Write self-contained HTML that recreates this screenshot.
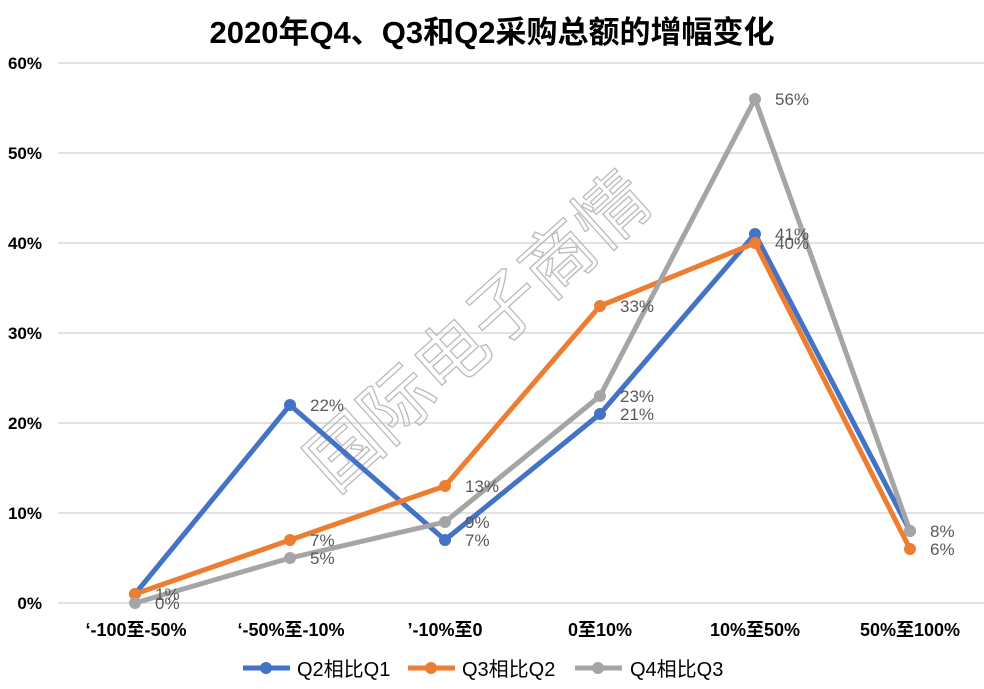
<!DOCTYPE html>
<html><head><meta charset="utf-8"><style>
body{margin:0;background:#fff;}
svg{display:block;font-family:"Liberation Sans","Noto Sans CJK SC",sans-serif;}
</style></head><body>
<svg width="984" height="689" viewBox="0 0 984 689">
<text x="492" y="43" text-anchor="middle" font-size="31" font-weight="bold" fill="#000">2020年Q4、Q3和Q2采购总额的增幅变化</text>
<g stroke="#d9d9d9" stroke-width="1.5">
<line x1="58" x2="984" y1="63" y2="63"/><line x1="58" x2="984" y1="153" y2="153"/>
<line x1="58" x2="984" y1="243" y2="243"/><line x1="58" x2="984" y1="333" y2="333"/>
<line x1="58" x2="984" y1="423" y2="423"/><line x1="58" x2="984" y1="513" y2="513"/>
<line x1="58" x2="984" y1="603" y2="603"/>
</g>
<g font-size="17" font-weight="bold" fill="#000" text-anchor="end">
<text x="42" y="69">60%</text><text x="42" y="159">50%</text><text x="42" y="249">40%</text>
<text x="42" y="339">30%</text><text x="42" y="429">20%</text><text x="42" y="519">10%</text><text x="42" y="609">0%</text>
</g>
<g font-size="18" font-weight="bold" fill="#000" text-anchor="middle">
<text x="136" y="636">‘-100至-50%</text><text x="291" y="636">‘-50%至-10%</text><text x="445" y="636">’-10%至0</text>
<text x="600" y="636">0至10%</text><text x="755" y="636">10%至50%</text><text x="910" y="636">50%至100%</text>
</g>
<text x="495" y="350" transform="rotate(-42 495 350)" text-anchor="middle" font-size="72" fill="none" stroke="#bbb" stroke-width="1.3">国际电子商情</text>
<g fill="none" stroke-width="5" stroke-linejoin="round">
<polyline stroke="#4472c4" points="135,594 290,405 445,540 600,414 755,234 910,531"/>
<polyline stroke="#ed7d31" points="135,594 290,540 445,486 600,306 755,243 910,549"/>
<polyline stroke="#a5a5a5" points="135,603 290,558 445,522 600,396 755,99 910,531"/>
</g>
<g fill="#4472c4"><circle cx="135" cy="594" r="6"/><circle cx="290" cy="405" r="6"/><circle cx="445" cy="540" r="6"/><circle cx="600" cy="414" r="6"/><circle cx="755" cy="234" r="6"/><circle cx="910" cy="531" r="6"/></g>
<g fill="#ed7d31"><circle cx="135" cy="594" r="6"/><circle cx="290" cy="540" r="6"/><circle cx="445" cy="486" r="6"/><circle cx="600" cy="306" r="6"/><circle cx="755" cy="243" r="6"/><circle cx="910" cy="549" r="6"/></g>
<g fill="#a5a5a5"><circle cx="135" cy="603" r="6"/><circle cx="290" cy="558" r="6"/><circle cx="445" cy="522" r="6"/><circle cx="600" cy="396" r="6"/><circle cx="755" cy="99" r="6"/><circle cx="910" cy="531" r="6"/></g>
<g font-size="17" fill="#595959">
<text x="155" y="600">1%</text><text x="155" y="609">0%</text>
<text x="310" y="411">22%</text><text x="310" y="546">7%</text><text x="310" y="564">5%</text>
<text x="465" y="492">13%</text><text x="465" y="528">9%</text><text x="465" y="546">7%</text>
<text x="620" y="312">33%</text><text x="620" y="402">23%</text><text x="620" y="420">21%</text>
<text x="775" y="105">56%</text><text x="775" y="240">41%</text><text x="775" y="249">40%</text>
<text x="930" y="537">8%</text><text x="930" y="555">6%</text>
</g>
<g stroke-width="5">
<line x1="243" x2="290" y1="668" y2="668" stroke="#4472c4"/><circle cx="266" cy="668" r="6" fill="#4472c4"/>
<line x1="408" x2="455" y1="668" y2="668" stroke="#ed7d31"/><circle cx="431" cy="668" r="6" fill="#ed7d31"/>
<line x1="575" x2="622" y1="668" y2="668" stroke="#a5a5a5"/><circle cx="598" cy="668" r="6" fill="#a5a5a5"/>
</g>
<g font-size="20" fill="#000">
<text x="297" y="676">Q2相比Q1</text><text x="462" y="676">Q3相比Q2</text><text x="630" y="676">Q4相比Q3</text>
</g>
</svg>
</body></html>
